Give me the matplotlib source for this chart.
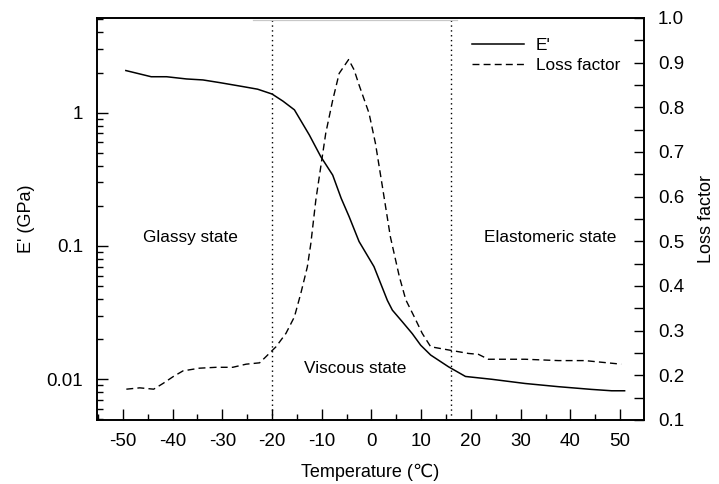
import matplotlib
matplotlib.use("Agg")
import matplotlib.pyplot as plt
from matplotlib.ticker import LogLocator, MultipleLocator, FixedLocator, FixedFormatter, NullFormatter

plt.rcParams['font.family'] = ['Liberation Sans', 'DejaVu Sans']
plt.rcParams['axes.unicode_minus'] = False

# Storage modulus E' (GPa)
temp_e = [-49.4, -44.3, -41.2, -37.2, -33.9, -30.5, -25.9, -22.9, -20.0, -17.8, -15.5,
          -12.5, -10.2, -7.8, -6.1, -4.5, -2.5, 0.5, 3.2, 4.2, 6.2, 8.2, 9.9, 11.9,
          15.5, 18.9, 24.2, 30.9, 37.6, 44.2, 48.3, 50.9]
e_mod = [2.07, 1.86, 1.86, 1.79, 1.76, 1.68, 1.57, 1.50, 1.38, 1.22, 1.05,
         0.68, 0.468, 0.34, 0.228, 0.166, 0.108, 0.070, 0.039, 0.033, 0.027, 0.022, 0.018, 0.0152,
         0.0124, 0.0105, 0.0100, 0.0093, 0.0088, 0.0084, 0.0082, 0.0082]

# Loss factor
temp_l = [-49.3, -46.6, -43.8, -41.9, -39.9, -37.9, -34.6, -31.2, -27.9, -25.2, -22.5,
          -21.2, -19.2, -17.2, -15.5, -14.2, -12.9, -12.2, -11.2, -10.2, -9.2, -7.8, -6.5,
          -4.6, -3.5, -2.5, -0.5, 0.8, 2.2, 3.8, 5.6, 6.9, 8.6, 10.2, 11.9, 14.9, 19.5,
          21.5, 23.5, 30.9, 37.6, 42.9, 50.2]
loss = [0.169, 0.172, 0.169, 0.182, 0.197, 0.210, 0.216, 0.218, 0.218, 0.225, 0.228,
        0.242, 0.264, 0.294, 0.331, 0.384, 0.443, 0.495, 0.592, 0.667, 0.742, 0.816, 0.876,
        0.907, 0.884, 0.850, 0.787, 0.719, 0.622, 0.510, 0.421, 0.369, 0.331, 0.294, 0.264, 0.258, 0.249,
        0.247, 0.236, 0.236, 0.233, 0.233, 0.225]

x_ticks = [-50, -40, -30, -20, -10, 0, 10, 20, 30, 40, 50]
left_ticks = [0.01, 0.1, 1]
left_labels = ['0.01', '0.1', '1']
right_ticks = [0.1, 0.2, 0.3, 0.4, 0.5, 0.6, 0.7, 0.8, 0.9, 1.0]
boundaries = [-20, 16]

fig = plt.figure(figsize=(7.19, 4.84), dpi=100)
ax = fig.add_axes([97/719, 1 - 420/484, 547/719, 402/484])
ax2 = ax.twinx()

ax.plot(temp_e, e_mod, color='black', lw=1.1, label="E'")
ax2.plot(temp_l, loss, color='black', lw=1.0, ls=(0, (5, 3)), label='Loss factor')

for b in boundaries:
    ax.axvline(b, color='black', lw=1.0, ls=(0, (1, 2.5)))

# faint grey line just below the top frame (as in the original scan)
ax.plot([0.285, 0.658], [0.996, 0.996], transform=ax.transAxes, color='#c8c8c8', lw=0.9)

ax.set_yscale('log')
ax.set_xlim(-55.2, 54.8)
ax.set_ylim(0.00495, 5.13)
ax2.set_ylim(0.1, 1.0)

ax.xaxis.set_major_locator(FixedLocator(x_ticks))
ax.xaxis.set_minor_locator(MultipleLocator(5))
ax.yaxis.set_major_locator(FixedLocator(left_ticks))
ax.yaxis.set_major_formatter(FixedFormatter(left_labels))
ax.yaxis.set_minor_locator(LogLocator(base=10, subs=range(2, 10)))
ax.yaxis.set_minor_formatter(NullFormatter())
ax2.yaxis.set_major_locator(FixedLocator(right_ticks))
ax2.set_yticklabels([f'{v:.1f}' for v in right_ticks])
ax2.yaxis.set_minor_locator(MultipleLocator(0.05))

fs = 13.5
ax.tick_params(axis='both', which='major', direction='in', length=8, width=1.0, labelsize=fs)
ax.tick_params(axis='y', which='major', pad=10)
ax.tick_params(axis='x', which='major', pad=9)
ax.tick_params(axis='both', which='minor', direction='in', length=4, width=1.0)
ax.tick_params(axis='x', which='both', top=False)
ax2.tick_params(axis='y', which='major', direction='in', length=7, width=1.0, labelsize=fs, pad=10)
ax2.tick_params(axis='y', which='minor', direction='in', length=7, width=1.0)

for a in (ax, ax2):
    for s in a.spines.values():
        s.set_linewidth(1.2)

ax.set_xlabel('Temperature (\u2103)', fontsize=13, labelpad=10)
ax.set_ylabel("E' (GPa)", fontsize=13, labelpad=8)
ax2.set_ylabel('Loss factor', fontsize=13, labelpad=10)

tfs = 12.4
ax.text(0.17, 0.455, 'Glassy state', transform=ax.transAxes, ha='center', va='center', fontsize=tfs)
ax.text(0.829, 0.453, 'Elastomeric state', transform=ax.transAxes, ha='center', va='center', fontsize=tfs)
ax.text(0.472, 0.127, 'Viscous state', transform=ax.transAxes, ha='center', va='center', fontsize=tfs)

h1, l1 = ax.get_legend_handles_labels()
h2, l2 = ax2.get_legend_handles_labels()
ax2.legend(h1 + h2, l1 + l2, loc='upper right', bbox_to_anchor=(0.985, 0.99), frameon=False,
           fontsize=tfs, handlelength=3.0, handletextpad=0.7, labelspacing=0.3)

fig.savefig('out.png', dpi=100)
